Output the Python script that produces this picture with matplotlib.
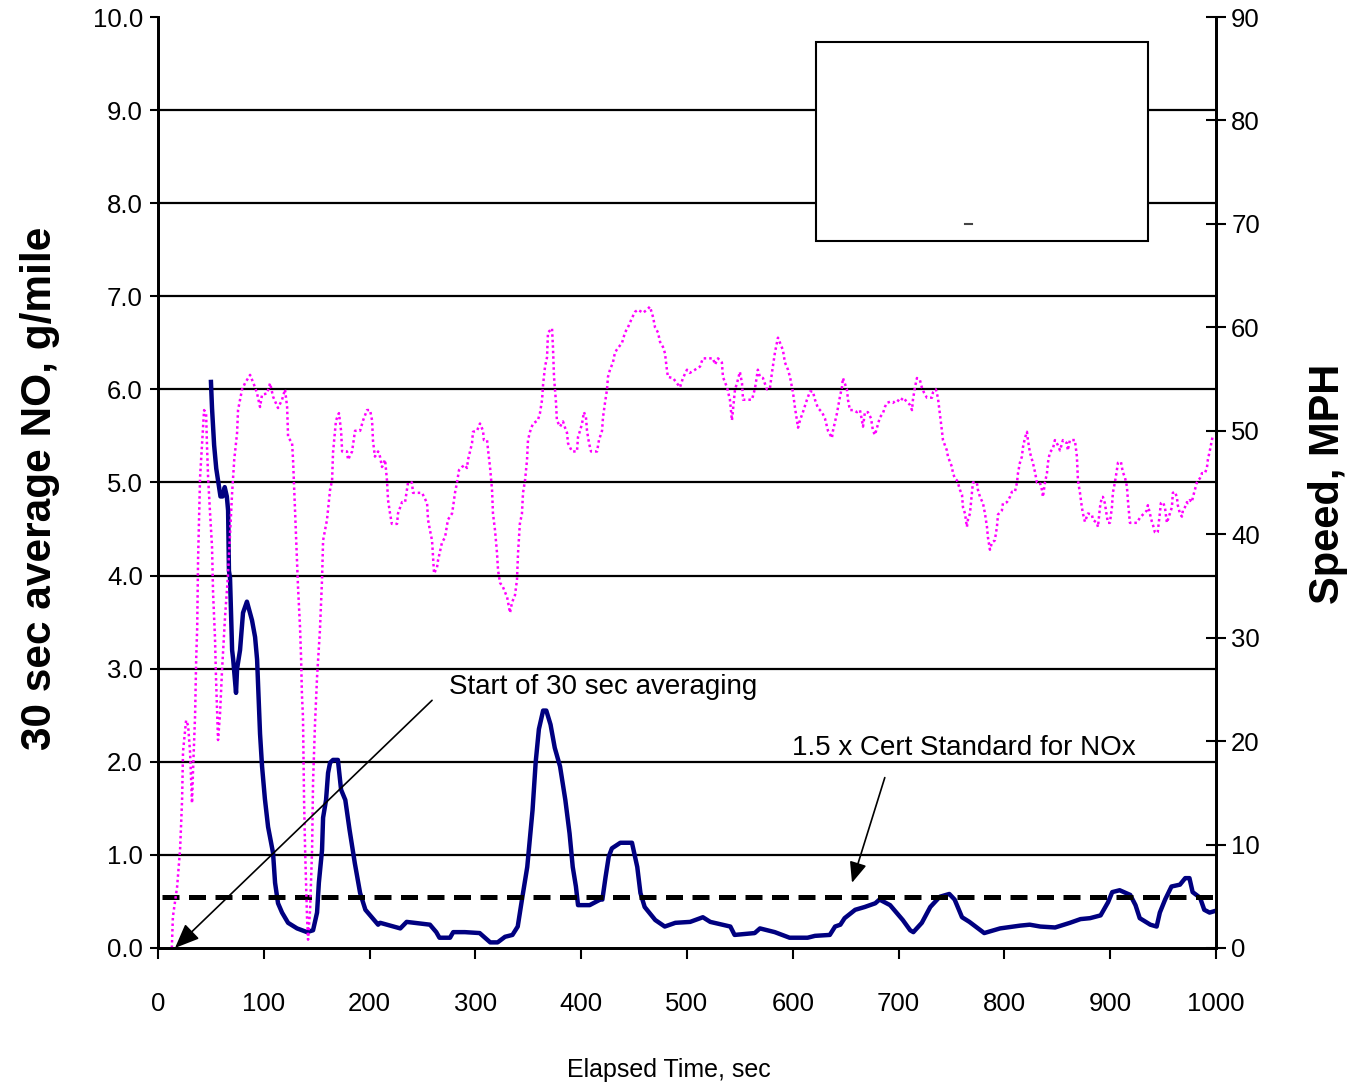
import numpy as np
import matplotlib
matplotlib.use("Agg")
import matplotlib.pyplot as plt
from matplotlib.patches import Rectangle

plt.rcParams['font.family'] = ['Liberation Sans', 'DejaVu Sans']

# speed trace (right axis, MPH)
speed_t = [13, 14, 18, 20.8, 22.7, 23.6, 26.5, 28.4, 30.2, 32.1, 33, 35, 36, 37, 37.8, 39.7,
           42.5, 43.5, 45.4, 46.3, 47.3, 49, 51, 52, 53.8, 54.8, 56.7, 58.6, 60.5, 61.4, 63.3,
           66, 70, 72, 74.7, 75.6, 79.4, 82.2, 87, 91.7, 93.6, 96.4, 98.3, 103, 105.9, 108.7,
           113.4, 117.2, 120, 122, 122.9, 126.7, 127.6, 129.5, 131.4, 132.3, 134.2, 135.2, 136,
           137, 138, 139, 140.8, 141.8, 143.7, 145.6, 146.5, 148.4, 150.3, 153, 155, 156, 159.7,
           162.6, 164.5, 165.4, 168.2, 171, 173, 174, 178.6, 179.6, 183.4, 186.2, 191, 193.8,
           197.5, 200.4, 202.3, 203.2, 205, 208, 209.8, 211.7, 214.6, 216.4, 217.4, 219.3, 221,
           225.9, 226.8, 230.6, 233.5, 236.3, 240, 241, 249.5, 250.5, 254.3, 255.2, 257, 259,
           260, 260.9, 263.7, 264.7, 268.4, 271.3, 274, 277.9, 278.8, 280.7, 282.6, 284.5, 287.3,
           290, 292, 293, 294.9, 296.8, 297.7, 301.5, 304.3, 307.2, 308, 311, 312, 313.8, 315.7,
           316.6, 318.5, 320.4, 321.4, 323.3, 326, 330, 332.7, 334.6, 337.4, 339.3, 340.3, 342,
           344, 345, 346.9, 348.8, 349.7, 351.6, 354.4, 359, 361, 363, 364, 365.8, 367.7, 368.6,
           370.5, 372.4, 373.3, 374.3, 376.2, 377, 380, 382.8, 384.7, 386.6, 387.5, 389.4, 391.3,
           396, 397, 398.9, 400.8, 402.6, 404.5, 405.5, 407.4, 409.3, 415, 416.8, 419.7, 420.6,
           422.5, 424.4, 425.3, 427.2, 430, 432, 434.8, 438.6, 441.4, 444.2, 448, 450.9, 453.7,
           458.4, 462.2, 465, 467.9, 469.8, 472.6, 474.5, 477.3, 479.2, 481, 482, 486.8, 490.5,
           493.4, 496.2, 500, 502.8, 507.6, 510.4, 512.3, 515, 524.6, 526.5, 529.3, 533, 534,
           537.8, 540.6, 542.5, 543.5, 545.4, 547.3, 550, 552, 553, 561.4, 564.3, 567, 569, 571.8,
           575.6, 578.4, 580.3, 583.2, 586, 590.7, 592.6, 595.5, 597.4, 600.2, 602, 604, 605,
           606.8, 609.6, 613.4, 616.3, 619, 621, 623.8, 627.6, 630.4, 633.3, 637, 638, 641.8,
           644.6, 646.5, 647.4, 651.2, 652.2, 654, 657, 660.7, 663.5, 665.4, 666.4, 668.2, 671,
           674, 675.8, 677.7, 679.6, 680.5, 682.4, 685.3, 687.1, 689, 691.9, 694.7, 698.5, 701.3,
           704.2, 708, 710.8, 712.7, 713.6, 715.5, 717.4, 720.2, 722, 724, 726.8, 731.6, 732.5,
           735.3, 737.2, 739, 741, 742, 745.7, 746.7, 750.5, 751.4, 753.3, 755.2, 756, 758, 760,
           760.9, 762.8, 764.6, 765.6, 767.5, 770.3, 774, 775, 777, 779.8, 781.7, 783.6, 784.5,
           786.4, 788.3, 791, 793, 794, 797.7, 798.7, 802.5, 805.3, 807.2, 810, 812, 812.9, 814.7,
           816.6, 817.6, 819.5, 821.4, 822.3, 824.2, 827, 829, 830.8, 833.6, 835.5, 836.5, 838.4,
           840.3, 841.2, 843, 846, 847.8, 850.7, 852.6, 855.4, 859.2, 860, 862, 866.7, 868.6,
           869.6, 871.5, 873.3, 874.3, 876.2, 879, 882.8, 883.7, 887.5, 888.5, 890.4, 892.2,
           893.2, 895, 897, 897.9, 899.8, 901.7, 902.6, 904.5, 906.4, 907.4, 910.2, 912, 914,
           915.9, 916.8, 918.7, 925.3, 928.2, 931, 934.8, 935.7, 937.6, 939.5, 940.5, 942.3,
           944.2, 945, 947, 948, 949.9, 951.8, 953.7, 954.6, 956.5, 958.4, 959.3, 961.2, 963.1,
           964, 966, 967.9, 968.8, 970.7, 972.6, 973.5, 975.4, 977.3, 978.3, 980.2, 982, 983,
           984.9, 986.8, 989.6, 991.5, 992.4, 994.3, 996.2, 997]
speed_mph = [0, 3, 5.9, 9.5, 14.3, 19, 22, 21.5, 19, 14, 17, 22.5, 27.8, 31, 37.5, 45.5,
             50.4, 52, 51.7, 48.4, 45.5, 42.3, 38.8, 34.3, 30, 26, 20.1, 22.7, 26.9, 28.5, 32,
             35.9, 44, 47.2, 49.8, 52, 54, 54.6, 55.4, 54.2, 53.6, 52.3, 53.5, 53.6, 54.6, 53.3,
             52.2, 53, 54, 52.3, 49.4, 48.8, 47.2, 42.3, 37.5, 34.9, 31, 28, 24.5,
             22.3, 14.3, 9.5, 3, 0.8, 3.7, 9.5, 16, 21.8, 26.2, 30.7, 35.6, 39.4, 41.4,
             44.3, 45.2, 47.9, 51, 51.7, 50, 48, 48, 47.2, 48, 50, 50, 51,
             52, 52, 51, 49, 47.5, 48, 47.5, 46.5, 47.2, 45.2, 43.3, 42, 41,
             41, 42, 43.1, 43.1, 45, 45, 44, 44, 43.8, 43, 41.4, 40.4, 39.4,
             37.8, 36.2, 36.8, 37.5, 39.2, 39.7, 41.4, 42, 42.6, 44, 45, 46.2, 46.5,
             46.7, 46.4, 47.2, 48, 48.8, 49.9, 50, 50.7, 50, 49.1, 49.1, 48.1, 46.5, 44.3,
             42, 40.4, 38.2, 36.5, 35.3, 34.9, 33.9, 32.4, 33.4, 34.1, 35.6, 38.2, 41,
             42, 44, 45.2, 47.2, 49.1, 49.9, 50.7, 51, 51.7, 53, 54.5, 56.2, 57.1, 59.5,
             59.7, 59.9, 58.1, 55.2, 52.7, 51, 50.4, 50.9, 50.3, 49.8, 48.8, 48.4, 48,
             48, 49.4, 50, 50.7, 51.8, 51.3, 50, 48.8, 48, 48, 49.1, 50, 51.3,
             52.7, 54, 55.2, 55.9, 56.6, 57.6, 58, 58.5, 59.5, 60, 60.9, 61.5, 61.7,
             61.4, 61.7, 62, 61, 60, 59.5, 58.6, 58.1, 57.5, 55.9, 55.2, 55.1, 54.6,
             54.2, 55.1, 55.9, 55.6, 55.9, 56.1, 56.2, 57, 57, 56.4, 57, 56.6, 55.2,
             54.2, 53, 51, 52, 54, 54.6, 55.7, 54.6, 53, 53, 54.1, 55.9, 55.2, 55.1,
             54, 54.1, 55.6, 57.6, 59, 57.8, 56.6, 55.9, 55.2, 53.7, 52.3, 51, 50.3,
             51, 51.8, 53, 53.8, 53.8, 53, 52.2, 51.8, 51.2, 50, 49.3, 50, 51.7,
             53.3, 54.2, 55.1, 54, 53, 52, 52, 51.8, 52, 51, 50.4, 51.8, 51.8,
             51.2, 50, 49.6, 50.3, 50.6, 51.3, 51.7, 52.3, 52.7, 52.8, 52.7, 53, 52.8,
             53.2, 52.8, 52.5, 52, 53, 54.2, 55.1, 54.9, 54.2, 53.7, 53.2, 53.2, 53.7,
             54, 53.2, 51.7, 50, 49.1, 48.1, 47.5, 46.5, 45.9, 45.4, 45.2, 45, 44.3, 43.8,
             42.6, 42, 40.7, 41.4, 42, 45, 45, 44.3, 43.6, 43, 42, 40.7, 39.7,
             38.5, 39.2, 39.4, 40.7, 41.9, 42.3, 43, 43.1, 43.6, 44.1, 44.1, 45, 45.9, 46.9,
             47.5, 48.4, 49.3, 49.9, 49.1, 47.9, 46.9, 46, 45, 45, 44.3, 43.6, 45,
             45.9, 46.9, 47.9, 48.3, 49.1, 48.6, 48.1, 49.1, 48.8, 48.1, 49.1, 49.1, 47.5,
             45.2, 44, 42.6, 42, 41.2, 42, 41.9, 41.4, 41.1, 40.7, 42.6, 43.6,
             43.6, 43, 41.7, 41.1, 41.1, 42.6, 44, 45, 46.2, 46.9, 47, 46, 45.5,
             44.6, 43.3, 41.1, 41.1, 41.6, 41.9, 42.3, 42.8, 42, 41.2, 40.9, 40.2,
             40.1, 40.2, 42, 43, 43.1, 42.6, 41.1, 41.4, 42, 42.6, 44, 44.1, 43.6,
             42.8, 42, 41.7, 42.3, 42.6, 43.1, 43, 43.3, 43.1, 43.6, 44.3, 45, 45.2,
             45.4, 45.9, 45.9, 46.4, 47.2, 48.1, 49.1, 49.5]

# 30 sec average NO (left axis, g/mile)
no_t = [50, 51, 53, 55, 57, 59, 61, 63, 65, 66.2, 67, 68, 70, 71, 73.7, 74.7, 77.5, 80.3, 84,
        88.8, 91.7, 93.6, 94.5, 96.4, 98.3, 101, 104, 108.7, 110.6, 113.4, 117.2, 122.9, 131.4,
        140.8, 146.5, 150.3, 152, 155, 156, 158.8, 160.7, 162.6, 165.4, 170, 173, 177, 181, 186,
        191, 196, 202, 208, 210, 229, 235, 257, 263, 266, 276, 279, 290, 304, 309, 314, 321,
        328, 335, 340, 344, 349, 352, 354, 357, 360, 364, 367, 371, 375, 380, 385, 389, 392,
        395, 397, 408, 418, 420, 423, 426, 429, 437, 448, 453, 456, 460, 470, 479, 489, 503,
        515, 522, 541, 545, 564, 569, 583, 597, 614, 621, 635, 640, 645, 649, 659, 668, 678,
        682, 692, 698, 704, 711, 714, 722, 730, 739, 748, 753, 760, 767, 781, 796, 815, 824,
        834, 848, 862, 872, 881, 891, 895, 898, 902, 909, 919, 924, 928, 938, 944, 947, 952,
        958, 966, 971, 975, 978, 985, 989, 994, 1000]
no_gpm = [6.08, 5.8, 5.4, 5.15, 5.0, 4.85, 4.85, 4.95, 4.85, 4.7, 4.05, 3.98, 3.2, 3.1, 2.74,
          3.0, 3.2, 3.6, 3.72, 3.52, 3.34, 3.1, 2.85, 2.3, 1.95, 1.6, 1.3, 1.02, 0.7, 0.48,
          0.38, 0.27, 0.21, 0.17, 0.19, 0.38, 0.7, 1.05, 1.4, 1.59, 1.88, 1.99, 2.02, 2.02,
          1.7, 1.59, 1.27, 0.91, 0.59, 0.41, 0.33, 0.25, 0.27, 0.21, 0.28, 0.25, 0.17, 0.11,
          0.11, 0.17, 0.17, 0.16, 0.11, 0.06, 0.06, 0.12, 0.14, 0.23, 0.52, 0.87, 1.23, 1.48,
          2.0, 2.35, 2.55, 2.55, 2.4, 2.15, 1.95, 1.59, 1.23, 0.87, 0.66, 0.46, 0.46, 0.52,
          0.52, 0.76, 0.98, 1.07, 1.13, 1.13, 0.87, 0.59, 0.44, 0.3, 0.23, 0.27, 0.28, 0.33,
          0.28, 0.23, 0.14, 0.16, 0.21, 0.17, 0.11, 0.11, 0.13, 0.14, 0.23, 0.25, 0.32, 0.41,
          0.44, 0.48, 0.52, 0.46, 0.38, 0.3, 0.19, 0.17, 0.27, 0.44, 0.55, 0.58, 0.52, 0.33,
          0.28, 0.16, 0.21, 0.24, 0.25, 0.23, 0.22, 0.27, 0.31, 0.32, 0.35, 0.43, 0.49, 0.6,
          0.62, 0.57, 0.46, 0.32, 0.25, 0.23, 0.38, 0.52, 0.66, 0.68, 0.75, 0.75, 0.6, 0.54,
          0.41, 0.38, 0.4]

cert_limit = 0.55
cert_t = [4, 1000]

fig = plt.figure(figsize=(13.51, 10.84), dpi=100)
ax = fig.add_axes([0.117, 0.1255, 0.783, 0.8588])
ax2 = ax.twinx()

for yv in range(1, 10):
    ax.axhline(yv, color='black', lw=1.6, zorder=1)

ax.plot(no_t, no_gpm, color='#000080', lw=3.2, zorder=3)
ax.plot(cert_t, [cert_limit, cert_limit], color='black', lw=3.6, dashes=(3.4, 1.9), zorder=4)
ax2.plot(speed_t, speed_mph, color='#FF00FF', lw=1.8, linestyle=(0, (1, 1.2)))

# empty legend frame
ax.add_patch(Rectangle((622, 7.59), 314, 2.14, facecolor='white', edgecolor='black',
                       lw=1.5, zorder=5))
ax.plot([763, 769], [7.78, 7.78], color='#444444', lw=1.5, zorder=6)

ax.set_xlim(0, 1000)
ax.set_ylim(0, 10)
ax2.set_ylim(0, 90)
ax.set_xticks(np.arange(0, 1001, 100))
ax.set_yticks(np.arange(0, 10.01, 1.0))
ax.set_yticklabels(['%.1f' % v for v in np.arange(0, 10.01, 1.0)])
ax2.set_yticks(np.arange(0, 91, 10))

for a in (ax, ax2):
    a.spines['top'].set_visible(False)
    for s in ('left', 'right', 'bottom'):
        a.spines[s].set_linewidth(2)
ax.tick_params(axis='y', direction='out', length=6, width=1.5, labelsize=18.5, pad=5)
ax.tick_params(axis='x', direction='out', length=8, width=1.5, labelsize=18.5, pad=24)
ax2.tick_params(axis='y', direction='inout', length=14, width=1.5, labelsize=18.5, pad=4)

ax.set_xlabel('Elapsed Time, sec', fontsize=18)
ax.xaxis.set_label_coords(0.483, -0.118)
ax.set_ylabel('30 sec average NO, g/mile', fontsize=30.5, fontweight='bold')
ax.yaxis.set_label_coords(-0.093, 0.494)
ax2.set_ylabel('Speed, MPH', fontsize=30, fontweight='bold')
ax2.yaxis.set_label_coords(1.087, 0.498)

arrow1 = dict(arrowstyle='-|>,head_length=0.6,head_width=0.25', mutation_scale=25,
              color='black', lw=1.2, shrinkA=0, shrinkB=0)
arrow2 = dict(arrowstyle='-|>,head_length=0.6,head_width=0.25', mutation_scale=21,
              color='black', lw=1.2, shrinkA=0, shrinkB=0)
ax2.annotate('', xy=(16, 0.0), xytext=(259, 2.66), xycoords=ax.transData,
             textcoords=ax.transData, arrowprops=arrow1, annotation_clip=False)
ax2.annotate('', xy=(656, 0.70), xytext=(687, 1.83), xycoords=ax.transData,
             textcoords=ax.transData, arrowprops=arrow2, annotation_clip=False)
ax2.text(275, 2.80, 'Start of 30 sec averaging', transform=ax.transData,
         fontsize=20, ha='left', va='center')
ax2.text(599, 2.15, '1.5 x Cert Standard for NOx', transform=ax.transData,
         fontsize=20, ha='left', va='center')

fig.savefig('out.png', dpi=100)
